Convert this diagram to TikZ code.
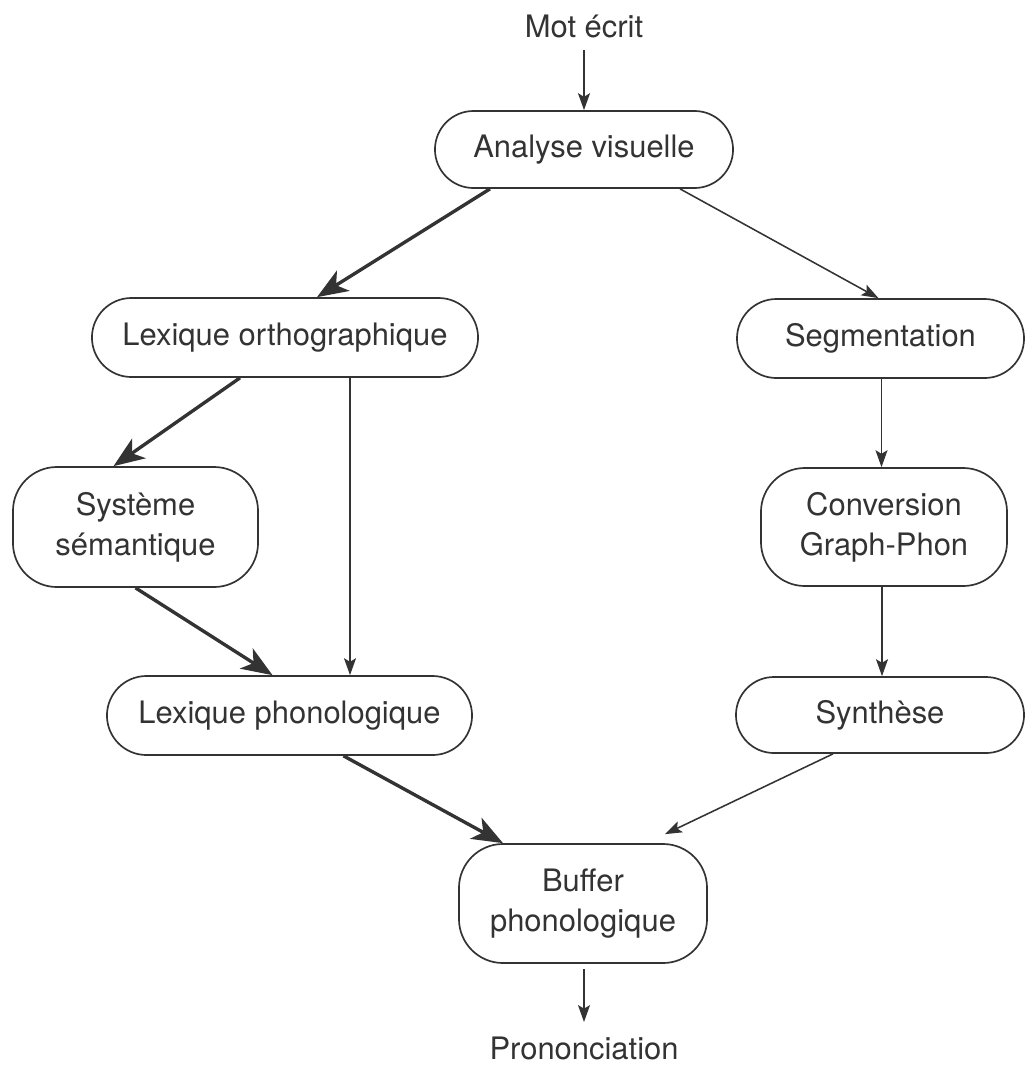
\documentclass[tikz,border=0pt]{standalone}
\usepackage{fontspec}
\setmainfont{TeX Gyre Heros}
\usetikzlibrary{arrows.meta,calc,shapes.misc}
\definecolor{ink}{HTML}{333333}
\begin{document}
\begin{tikzpicture}[x=0.025cm,y=-0.025cm,
  box/.style={draw=ink, line width=1.2pt, rounded rectangle, rounded rectangle arc length=180, inner sep=0pt, align=center, text=ink, font=\fontsize{22}{28.5}\selectfont},
  tallbox/.style={draw=ink, line width=1.2pt, rectangle, rounded corners=1.1cm, inner sep=0pt, align=center, text=ink, font=\fontsize{22}{28.5}\selectfont},
  lbl/.style={inner sep=0pt, text=ink, font=\fontsize{22}{28.5}\selectfont, anchor=base},
  thinarrow/.style={draw=ink, line width=1.1pt, -{Stealth[length=12pt,width=8.5pt,inset=2.5pt]}},
  thickarrow/.style={draw=ink, line width=2.4pt, -{Stealth[length=22pt,width=17pt,inset=6pt]}}]
\useasboundingbox (0,0) rectangle (1026,1067);

\node[lbl] (mot) at (584,37) {Mot écrit};
\node[box, minimum width=7.45cm, minimum height=1.925cm] (ana) at (584,149.5) {Analyse visuelle};
\node[box, minimum width=9.65cm, minimum height=1.975cm] (lo) at (285,337.5) {Lexique orthographique};
\node[box, minimum width=7.175cm, minimum height=1.975cm] (seg) at (880.5,338.5) {Segmentation};
\node[tallbox, minimum width=6.125cm, minimum height=3.0cm] (sys) at (135.5,527) {Système\\sémantique};
\node[tallbox, minimum width=6.15cm, minimum height=2.95cm] (conv) at (884,527) {Conversion\\Graph-Phon};
\node[box, minimum width=9.125cm, minimum height=1.975cm] (lp) at (289.5,715.5) {Lexique phonologique};
\node[box, minimum width=7.2cm, minimum height=1.9cm] (syn) at (880,715) {Synthèse};
\node[tallbox, minimum width=6.2cm, minimum height=2.975cm] (buf) at (583,903.5) {Buffer\\phonologique};
\node[lbl] (pron) at (584,1059) {Prononciation};

\draw[thinarrow] ($(mot.base)+(0,13)$) -- (ana.north);
\draw[thickarrow] ($(ana.south)+(-94,0)$) -- ($(lo.north)+(32,0)$);
\draw[thinarrow] ($(ana.south)+(96,0)$) -- ($(seg.north)+(-2,0)$);
\draw[thickarrow] ($(lo.south)+(-45,0)$) -- ($(sys.north)+(-22,0)$);
\draw[thinarrow] ($(lo.south)+(65,0)$) coordinate (lov) -- (lov |- lp.north);
\draw[thinarrow] ($(seg.south)+(1,0)$) coordinate (sgv) -- (sgv |- conv.north);
\draw[thinarrow] ($(conv.south)+(-2,0)$) coordinate (cvv) -- (cvv |- syn.north);
\draw[thickarrow] (sys.south) -- ($(lp.north)+(-17,0)$);
\draw[thickarrow] ($(lp.south)+(54,0)$) -- ($(buf.north)+(-80,0)$);
\draw[thinarrow] ($(syn.south)+(-47,0)$) -- ($(buf.north)+(82,-9)$);
\draw[thinarrow] ($(buf.south)+(1,5)$) -- ($(pron.base)+(0,-37)$);
\end{tikzpicture}
\end{document}
